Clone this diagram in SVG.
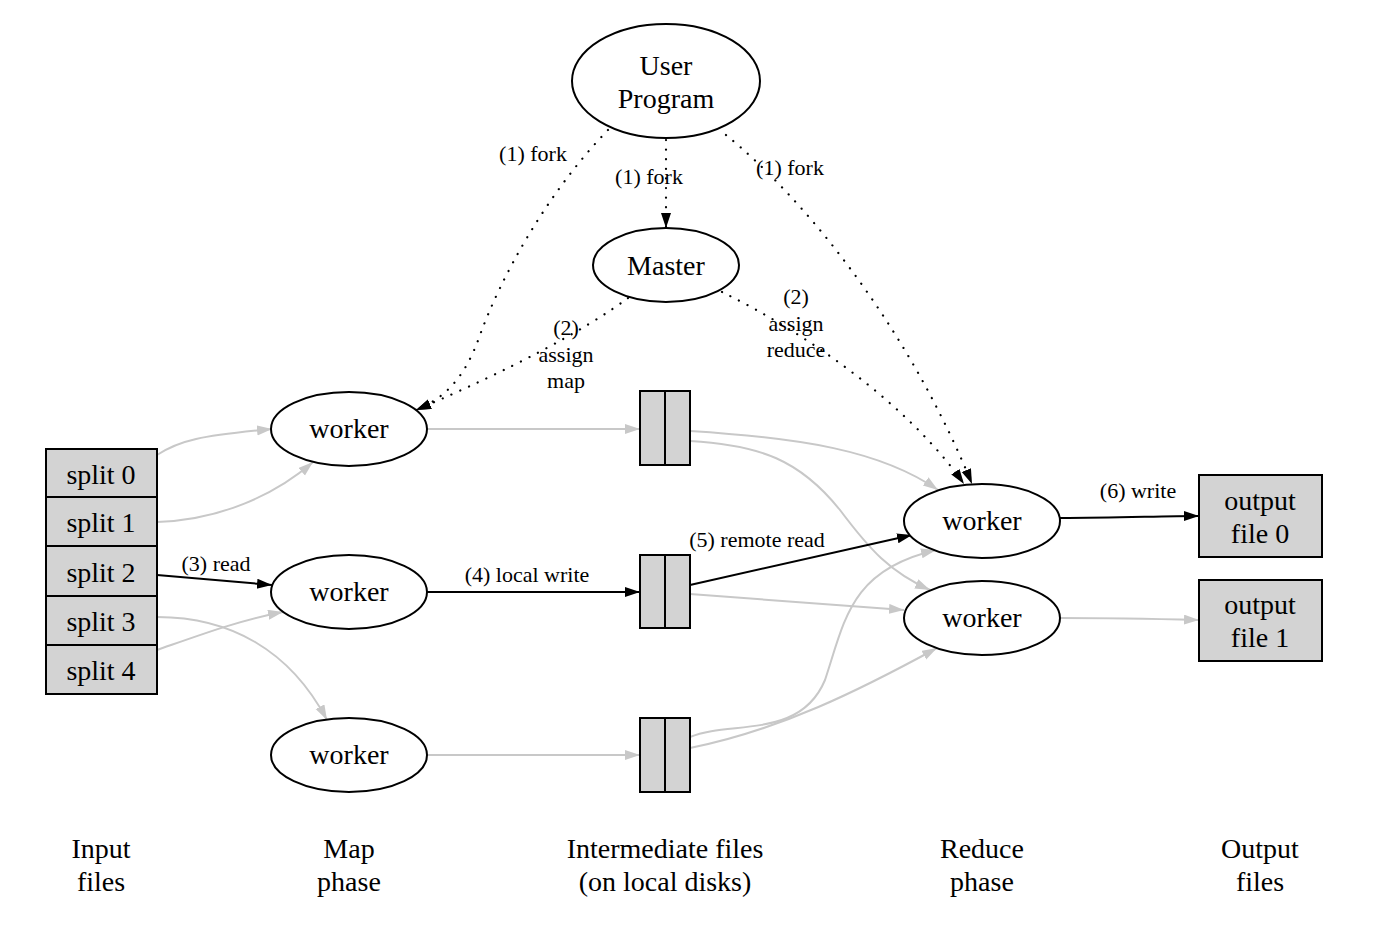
<svg xmlns="http://www.w3.org/2000/svg" width="1378" height="929" viewBox="0 0 1378 929">
<defs>
<marker id="ab" markerUnits="userSpaceOnUse" markerWidth="16" markerHeight="12" refX="15" refY="5" orient="auto"><path d="M0,0 L15,5 L0,10 Z" fill="#000"/></marker>
<marker id="ag" markerUnits="userSpaceOnUse" markerWidth="16" markerHeight="12" refX="15" refY="5" orient="auto"><path d="M0,0 L15,5 L0,10 Z" fill="#c8c8c8"/></marker>
</defs>
<style>
.n{fill:#fff;stroke:#000;stroke-width:2}
.b{fill:#d3d3d3;stroke:#000;stroke-width:2}
.t{font-family:"Liberation Serif","Times New Roman",Times,serif;font-size:28px;fill:#000;text-anchor:middle}
.l{font-family:"Liberation Serif","Times New Roman",Times,serif;font-size:22px;fill:#000;text-anchor:middle}
.e{fill:none}
.k{stroke:#000;stroke-width:2;marker-end:url(#ab)}
.g{stroke:#c8c8c8;stroke-width:2;marker-end:url(#ag)}
.d{stroke:#000;stroke-width:2.2;stroke-dasharray:0.1 9.5;stroke-linecap:round;marker-end:url(#ab)}
</style>
<g id="connectors">
<path class="e d" d="M666,140 L666,228"/>
<path class="e d" d="M608,130 C545,195 500,280 480,335 C465,378 445,398 416,410"/>
<path class="e d" d="M628,298 C585,330 510,370 416,410"/>
<path class="e d" d="M726,135 C800,195 905,320 972,484"/>
<path class="e d" d="M722,292 C800,330 905,400 964,484"/>
<path class="e g" d="M157,455 C180,440 200,436 272,429"/>
<path class="e g" d="M157,522 C220,520 275,495 313,462"/>
<path class="e k" d="M157,575 L272,585"/>
<path class="e g" d="M157,617 C230,617 290,650 327,720"/>
<path class="e g" d="M157,650 C200,635 240,620 283,612"/>
<path class="e g" d="M427,429 L640,429"/>
<path class="e k" d="M427,592 L640,592"/>
<path class="e g" d="M427,755 L640,755"/>
<path class="e g" d="M690,431 C800,438 880,450 938,490"/>
<path class="e g" d="M690,441 C760,445 800,460 840,510 C870,550 890,572 930,590"/>
<path class="e k" d="M690,585 L912,535"/>
<path class="e g" d="M690,594 L904,610"/>
<path class="e g" d="M690,737 C730,720 800,740 825,680 C845,620 850,570 936,550"/>
<path class="e g" d="M690,748 C780,730 860,690 937,648"/>
<path class="e k" d="M1060,518 C1120,518 1160,516 1199,516"/>
<path class="e g" d="M1060,618 C1120,618 1160,619 1199,620"/>
<text class="l" x="533" y="161">(1) fork</text>
<text class="l" x="649" y="184">(1) fork</text>
<text class="l" x="790" y="175">(1) fork</text>
<text class="l" x="566" y="335">(2)</text>
<text class="l" x="566" y="362">assign</text>
<text class="l" x="566" y="388">map</text>
<text class="l" x="796" y="304">(2)</text>
<text class="l" x="796" y="331">assign</text>
<text class="l" x="796" y="357">reduce</text>
<text class="l" x="216" y="571">(3) read</text>
<text class="l" x="527" y="582">(4) local write</text>
<text class="l" x="757" y="547">(5) remote read</text>
<text class="l" x="1138" y="498">(6) write</text>
</g>
<g id="user_program"><ellipse class="n" cx="666" cy="81" rx="94" ry="57"/><text class="t" x="666" y="75">User</text><text class="t" x="666" y="108">Program</text></g>
<g id="master"><ellipse class="n" cx="666" cy="265" rx="73" ry="37"/><text class="t" x="666" y="275">Master</text></g>
<g id="map_worker_1"><ellipse class="n" cx="349" cy="429" rx="78" ry="37"/><text class="t" x="349" y="438">worker</text></g>
<g id="map_worker_2"><ellipse class="n" cx="349" cy="592" rx="78" ry="37"/><text class="t" x="349" y="601">worker</text></g>
<g id="map_worker_3"><ellipse class="n" cx="349" cy="755" rx="78" ry="37"/><text class="t" x="349" y="764">worker</text></g>
<g id="splits">
<rect class="b" x="46" y="449" width="111" height="48"/><text class="t" x="101" y="484">split 0</text>
<rect class="b" x="46" y="497" width="111" height="49"/><text class="t" x="101" y="532">split 1</text>
<rect class="b" x="46" y="546" width="111" height="50"/><text class="t" x="101" y="582">split 2</text>
<rect class="b" x="46" y="596" width="111" height="49"/><text class="t" x="101" y="631">split 3</text>
<rect class="b" x="46" y="645" width="111" height="49"/><text class="t" x="101" y="680">split 4</text>
</g>
<g id="intermediate_1"><rect class="b" x="640" y="391" width="50" height="74"/><line x1="665" y1="391" x2="665" y2="465" stroke="#000" stroke-width="2"/></g>
<g id="intermediate_2"><rect class="b" x="640" y="555" width="50" height="73"/><line x1="665" y1="555" x2="665" y2="628" stroke="#000" stroke-width="2"/></g>
<g id="intermediate_3"><rect class="b" x="640" y="718" width="50" height="74"/><line x1="665" y1="718" x2="665" y2="792" stroke="#000" stroke-width="2"/></g>
<g id="reduce_worker_1"><ellipse class="n" cx="982" cy="521" rx="78" ry="37"/><text class="t" x="982" y="530">worker</text></g>
<g id="reduce_worker_2"><ellipse class="n" cx="982" cy="618" rx="78" ry="37"/><text class="t" x="982" y="627">worker</text></g>
<g id="output_0"><rect class="b" x="1199" y="475" width="123" height="82"/><text class="t" x="1260" y="510">output</text><text class="t" x="1260" y="543">file 0</text></g>
<g id="output_1"><rect class="b" x="1199" y="580" width="123" height="81"/><text class="t" x="1260" y="614">output</text><text class="t" x="1260" y="647">file 1</text></g>
<g id="labels">
<text class="t" x="101" y="858">Input</text><text class="t" x="101" y="891">files</text>
<text class="t" x="349" y="858">Map</text><text class="t" x="349" y="891">phase</text>
<text class="t" x="665" y="858">Intermediate files</text><text class="t" x="665" y="891">(on local disks)</text>
<text class="t" x="982" y="858">Reduce</text><text class="t" x="982" y="891">phase</text>
<text class="t" x="1260" y="858">Output</text><text class="t" x="1260" y="891">files</text>
</g>
</svg>
